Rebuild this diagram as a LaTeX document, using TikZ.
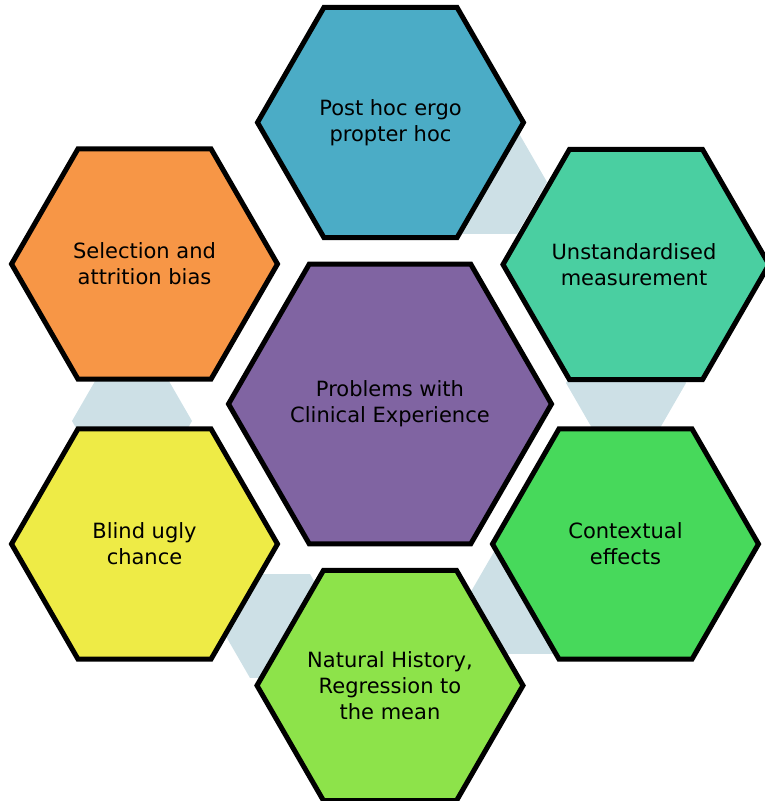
\documentclass[tikz,border=0pt]{standalone}
\usepackage{fontspec}
\setmainfont{DejaVu Sans}
\definecolor{linkfill}{RGB}{205,224,230}
\definecolor{cellTop}{RGB}{75,172,198}
\definecolor{cellUR}{RGB}{74,207,161}
\definecolor{cellLR}{RGB}{71,217,91}
\definecolor{cellBot}{RGB}{141,227,74}
\definecolor{cellLL}{RGB}{238,235,70}
\definecolor{cellUL}{RGB}{247,150,70}
\definecolor{cellMid}{RGB}{128,100,162}
% flat-topped hexagon: centre (#1,#2), circumradius #3, path options #4
\newcommand{\hexcell}[4]{%
  \path[#4] (#1+#3,#2) -- ++(120:#3) -- ++(180:#3) -- ++(240:#3)
    -- ++(300:#3) -- ++(0:#3) -- cycle;}
\begin{document}
\begin{tikzpicture}[x=1pt,y=-1pt,
  cell/.style={draw=black,line width=5pt,line join=miter,fill=#1},
  link/.style={fill=linkfill},
  caption/.style={align=center,inner sep=0pt,text=black,
    font=\fontsize{21}{26}\selectfont}]
\useasboundingbox (0,0) rectangle (765,801);
\clip (0,0) rectangle (765,801);

% light link hexagons lying behind neighbouring cells
\hexcell{487}{182}{60}{link}
\hexcell{626}{383}{60}{link}
\hexcell{525}{602}{60}{link}
\hexcell{280}{626}{60}{link}
\hexcell{132}{421}{60}{link}

% outer ring of cells
\hexcell{390.5}{122.5}{133}{cell=cellTop}
\hexcell{636}{264.5}{133}{cell=cellUR}
\hexcell{625.5}{544}{133}{cell=cellLR}
\hexcell{390}{685.5}{133}{cell=cellBot}
\hexcell{144.5}{544}{133}{cell=cellLL}
\hexcell{144.5}{264}{133}{cell=cellUL}

% central cell
\hexcell{390}{404}{161.5}{cell=cellMid}

% captions
\node[caption] (post) at (390.5,123) {Post hoc ergo\\propter hoc};
\node[caption] (meas) at (634,265) {Unstandardised\\measurement};
\node[caption] (ctx) at (625.5,544) {Contextual\\effects};
\node[caption] (nat) at (390,686) {Natural History,\\Regression to\\the mean};
\node[caption] (blind) at (144.5,544) {Blind ugly\\chance};
\node[caption] (sel) at (144.5,264) {Selection and\\attrition bias};
\node[caption] (prob) at (390,404) {Problems with\\Clinical Experience};
\end{tikzpicture}
\end{document}
